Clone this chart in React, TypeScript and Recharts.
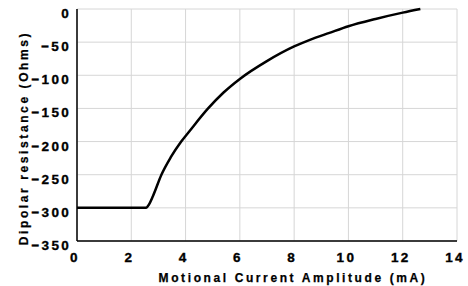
import { LineChart, Line, XAxis, YAxis, CartesianGrid } from "recharts";

const currentMa = [0, 2.5, 2.58, 2.65, 2.8, 3.11, 3.45, 3.84, 4.15, 4.83, 5.4, 6.0, 6.98, 8.0, 8.58, 9.3, 10.0, 11.0, 12.0, 12.65];
const resistanceOhm = [-300, -300, -299, -295, -282, -250, -224, -200, -184, -150, -126, -105.5, -79, -56.5, -46.5, -36, -26, -15, -5.5, 0];
const xTicks = [0, 2, 4, 6, 8, 10, 12, 14];
const yTicks = [-350, -300, -250, -200, -150, -100, -50, 0];

const data = currentMa.map((x, i) => ({ x, y: resistanceOhm[i] }));

const font = "'Liberation Sans', Arial, sans-serif";
const tickStyle = {
  fontSize: 13.5,
  fontWeight: "bold",
  fill: "#000",
  stroke: "#000",
  strokeWidth: 0.35,
  fontFamily: font,
  letterSpacing: "2.3px",
};
const titleStyle = {
  fontSize: 12,
  fontWeight: "bold",
  fill: "#000",
  stroke: "#000",
  strokeWidth: 0.25,
  fontFamily: font,
  letterSpacing: "2.6px",
};
const fmt = (v: number) => (v < 0 ? "\u2212" + Math.abs(v) : String(v));

const renderXTick = (props: any) => (
  <text x={props.x - 2} y={props.y + 13} textAnchor="middle" style={tickStyle}>
    {fmt(props.payload.value)}
  </text>
);

const renderYTick = (props: any) => (
  <text x={props.x + 2} y={props.y + 9} textAnchor="end" style={tickStyle}>
    {fmt(props.payload.value)}
  </text>
);

export default function App() {
  return (
    <div style={{ position: "absolute", left: 0, top: 0, width: 468, height: 286, background: "#fff" }}>
      <LineChart width={468} height={286} data={data} margin={{ top: 9, right: 11, bottom: 0, left: 0 }}>
        <CartesianGrid stroke="#d6d6d6" strokeWidth={1} />
        <XAxis
          dataKey="x"
          type="number"
          domain={[0, 14]}
          ticks={xTicks}
          height={45}
          axisLine={{ stroke: "#000", strokeWidth: 1.5 }}
          tickLine={false}
          tick={renderXTick}
          interval={0}
        />
        <XAxis
          xAxisId="top"
          orientation="top"
          dataKey="x"
          type="number"
          domain={[0, 14]}
          ticks={xTicks}
          height={0}
          mirror
          axisLine={{ stroke: "#444", strokeWidth: 1.5 }}
          tick={false}
        />
        <YAxis
          type="number"
          domain={[-350, 0]}
          ticks={yTicks}
          width={77}
          axisLine={{ stroke: "#000", strokeWidth: 1.5 }}
          tickLine={false}
          tick={renderYTick}
          interval={0}
        />
        <YAxis
          yAxisId="right"
          orientation="right"
          type="number"
          domain={[-350, 0]}
          ticks={yTicks}
          width={0}
          mirror
          axisLine={{ stroke: "#444", strokeWidth: 1.5 }}
          tick={false}
        />
        <Line
          dataKey="y"
          type="monotone"
          stroke="#000"
          strokeWidth={2.5}
          dot={false}
          isAnimationActive={false}
        />
        <text x={293} y={282} textAnchor="middle" style={titleStyle}>
          Motional Current Amplitude (mA)
        </text>
        <text x={28} y={138} textAnchor="middle" transform="rotate(-90 28 138)" style={titleStyle}>
          Dipolar resistance (Ohms)
        </text>
      </LineChart>
    </div>
  );
}
